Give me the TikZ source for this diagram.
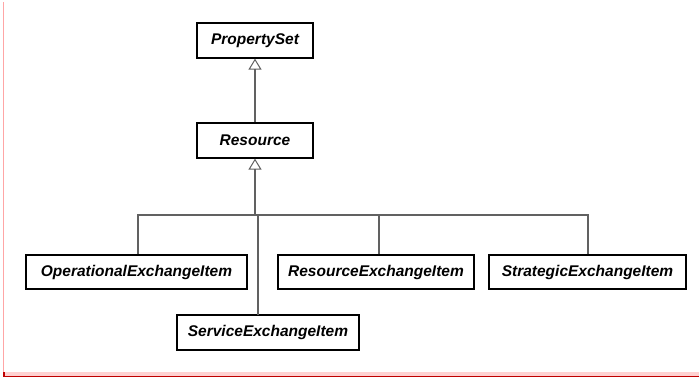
\documentclass[tikz,border=0pt]{standalone}
\usepackage{fontspec}
\setmainfont{Liberation Sans}
\usetikzlibrary{arrows.meta}
\tikzset{
  classbox/.style={draw=black, line width=1.2pt, fill=white, inner sep=0pt,
    font=\fontsize{15.5}{18}\selectfont\bfseries\itshape},
  genline/.style={draw=black!62, line width=1.2pt},
  gentip/.style={genline, -{Triangle[open, length=11pt, width=13pt, line width=1pt]}}
}
\begin{document}
\begin{tikzpicture}[x=1pt,y=-1pt]
\useasboundingbox (0,0) rectangle (699,377);
\fill[red!18] (3,372) rectangle (699,376);
\draw[red!35, line width=0.8pt] (3,2) -- (3,372);
\draw[red!75!black, line width=1.4pt] (4,372) -- (4,377.5) (4,376.3) -- (699,376.3);

\node[classbox, minimum width=116pt, minimum height=35pt] (pset) at (255,40.5) {PropertySet};
\node[classbox, minimum width=116pt, minimum height=35pt] (res) at (255,140.5) {Resource};

\node[classbox, minimum width=221pt, minimum height=34pt] (opx) at (136.5,272) {OperationalExchangeItem};
\node[classbox, minimum width=196pt, minimum height=34pt] (resx) at (376,272) {ResourceExchangeItem};
\node[classbox, minimum width=197pt, minimum height=34pt] (strx) at (587.5,272) {StrategicExchangeItem};
\node[classbox, minimum width=182pt, minimum height=35pt] (svcx) at (268,332.5) {ServiceExchangeItem};

\coordinate (join) at (255,215);
\coordinate (svctop) at (258,315);

\draw[gentip] (res.north) -- (pset.south);
\draw[gentip] (join) -- (res.south);
\draw[genline] ([xshift=1.5pt]opx.north) |- (join);
\draw[genline] ([xshift=3pt]resx.north) |- (join);
\draw[genline] ([xshift=0.5pt]strx.north) |- (join);
\draw[genline] (svctop) |- (join);
\end{tikzpicture}
\end{document}
